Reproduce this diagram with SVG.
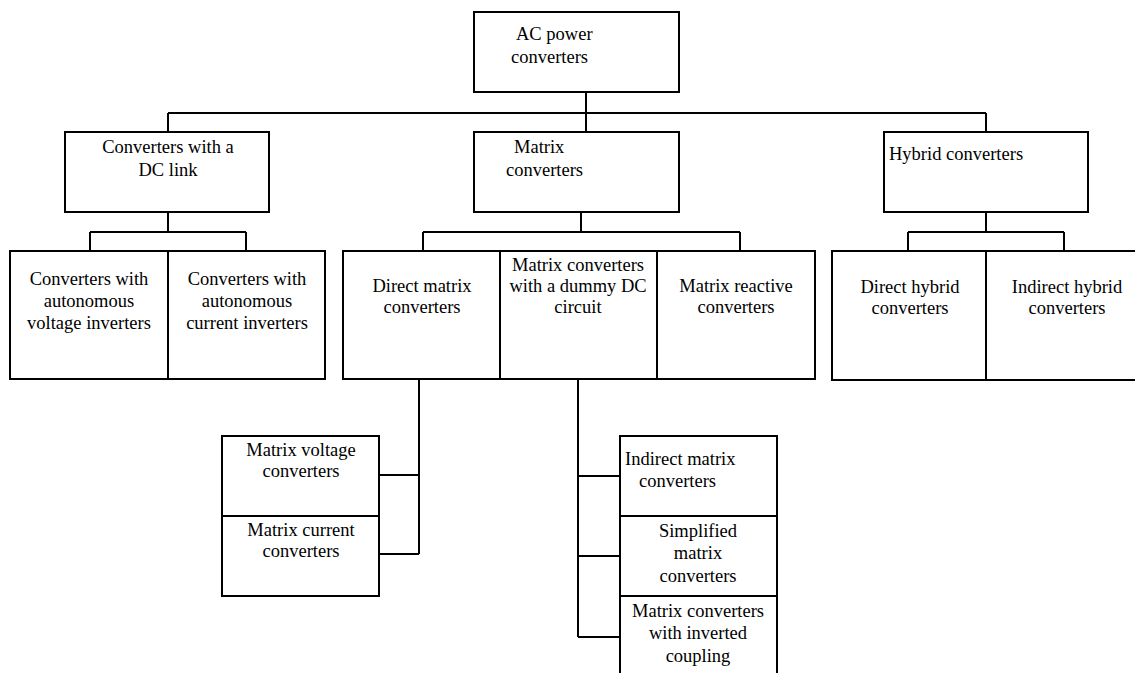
<svg xmlns="http://www.w3.org/2000/svg" width="1135" height="673" viewBox="0 0 1135 673">
<style>
.b{fill:#fff;stroke:#000;stroke-width:2}
.c{fill:none;stroke:#000;stroke-width:2}
text{font-family:"Liberation Serif","Times New Roman",serif;font-size:18.5px;fill:#000}
.m{text-anchor:middle}
</style>
<rect width="1135" height="673" fill="#fff"/>
<g id="connectors">
<path class="c" d="M586 92V132M168 113H986M168 113V132M986 113V132"/>
<path class="c" d="M168 212V232M90 232H246M90 232V251M246 232V251"/>
<path class="c" d="M581 212V232M423 232H740M423 232V251M740 232V251"/>
<path class="c" d="M986 212V232M908 232H1064M908 232V251M1064 232V251"/>
<path class="c" d="M419 379V554M379 475H419M379 554H419"/>
<path class="c" d="M578 379V637M578 476H620M578 556H620M578 637H620"/>
</g>
<g id="n_ac"><rect class="b" x="474" y="12" width="205" height="80"/><text x="516" y="40">AC power</text><text x="511" y="63">converters</text></g>
<g id="n_dclink"><rect class="b" x="65" y="132" width="204" height="80"/><text class="m" x="168" y="153">Converters with a</text><text class="m" x="168" y="176">DC link</text></g>
<g id="n_matrix"><rect class="b" x="474" y="132" width="205" height="80"/><text x="514" y="153">Matrix</text><text x="506" y="176">converters</text></g>
<g id="n_hybrid"><rect class="b" x="884" y="132" width="204" height="80"/><text x="889" y="160">Hybrid converters</text></g>
<g id="n_cvi"><rect class="b" x="10" y="251" width="158" height="128"/><text class="m" x="89" y="285">Converters with</text><text class="m" x="89" y="307">autonomous</text><text class="m" x="89" y="329">voltage inverters</text></g>
<g id="n_cci"><rect class="b" x="168" y="251" width="157" height="128"/><text class="m" x="247" y="285">Converters with</text><text class="m" x="247" y="307">autonomous</text><text class="m" x="247" y="329">current inverters</text></g>
<g id="n_dmc"><rect class="b" x="343" y="251" width="157" height="128"/><text class="m" x="422" y="292">Direct matrix</text><text class="m" x="422" y="313">converters</text></g>
<g id="n_mcdummy"><rect class="b" x="500" y="251" width="157" height="128"/><text class="m" x="578" y="271">Matrix converters</text><text class="m" x="578" y="292">with a dummy DC</text><text class="m" x="578" y="313">circuit</text></g>
<g id="n_mrc"><rect class="b" x="657" y="251" width="158" height="128"/><text class="m" x="736" y="292">Matrix reactive</text><text class="m" x="736" y="313">converters</text></g>
<g id="n_dhc"><rect class="b" x="832" y="251" width="154" height="129"/><text class="m" x="910" y="293">Direct hybrid</text><text class="m" x="910" y="314">converters</text></g>
<g id="n_ihc"><rect class="b" x="986" y="251" width="152" height="129"/><text class="m" x="1067" y="293">Indirect hybrid</text><text class="m" x="1067" y="314">converters</text></g>
<g id="n_mvc"><rect class="b" x="222" y="436" width="157" height="80"/><text class="m" x="301" y="456">Matrix voltage</text><text class="m" x="301" y="477">converters</text></g>
<g id="n_mcc"><rect class="b" x="222" y="516" width="157" height="80"/><text class="m" x="301" y="536">Matrix current</text><text class="m" x="301" y="557">converters</text></g>
<g id="n_imc"><rect class="b" x="620" y="436" width="157" height="80"/><text x="625" y="465">Indirect matrix</text><text x="639" y="487">converters</text></g>
<g id="n_smc"><rect class="b" x="620" y="516" width="157" height="80"/><text class="m" x="698" y="537">Simplified</text><text class="m" x="698" y="559">matrix</text><text class="m" x="698" y="582">converters</text></g>
<g id="n_mcic"><rect class="b" x="620" y="596" width="157" height="90"/><text class="m" x="698" y="617">Matrix converters</text><text class="m" x="698" y="639">with inverted</text><text class="m" x="698" y="662">coupling</text></g>
</svg>
